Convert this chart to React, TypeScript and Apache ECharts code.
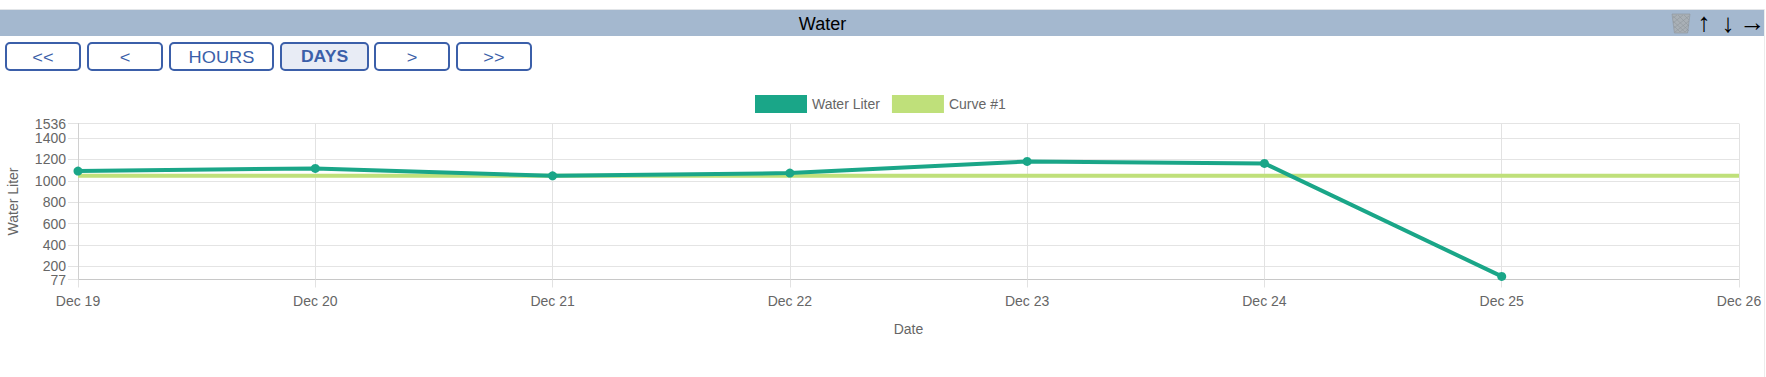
import React, { useEffect, useRef } from "react";
import * as echarts from "echarts";

const categories = ["Dec 19", "Dec 20", "Dec 21", "Dec 22", "Dec 23", "Dec 24", "Dec 25", "Dec 26"];
const waterLiter = [1091, 1116, 1047, 1072, 1181, 1163, 106, null];
const curve1 = [1047, 1047, 1047, 1047, 1047, 1047, 1047, 1047];
const yMin = 77;
const yMax = 1536;
const yTicks = [77, 200, 400, 600, 800, 1000, 1200, 1400, 1536];
const yMinLabel = [77];
const yUpperLabels = [200, 400, 600, 800, 1000, 1200, 1400, 1536];
const buttonLabels = ["<<", "<", "HOURS", "DAYS", ">", ">>"];
const buttonLefts = [5, 87, 169, 280, 374, 456];
const buttonRights = [81, 163, 274, 369, 450, 532];
const activeButton = "DAYS";

const FONT = '"Liberation Sans", Arial, sans-serif';
const BLUE = "#3b5fa9";

const TRASH = "M0 0 L18 0 L15.6 19 L2.4 19 Z";
const TRASH_HATCH =
  "M1 4 L5 1 M1 9 L11 1 M2 14 L17 2 M3 18 L17 7 M8 18 L16.5 11 M13 18 L16 15 M1 2 L17 17 M1 7 L13 18 M2 12 L8 18 M6 1 L17 12 M12 1 L17 6";
echarts.graphic.registerShape("trashBin", echarts.graphic.extendPath(TRASH, {}) as any);
echarts.graphic.registerShape("trashHatch", echarts.graphic.extendPath(TRASH_HATCH, {}) as any);

function buildGraphics() {
  const arrow = (text: string, x: number, y: number) => ({
    type: "text", silent: true, x, y,
    style: { text, fill: "#000", font: `bold 26px ${FONT}`, textAlign: "center", textVerticalAlign: "middle" },
  });
  const g: any[] = [
    { type: "rect", silent: true, shape: { x: 0, y: 9, width: 1764, height: 1 }, style: { fill: "#e2e5e8" } },
    { type: "rect", silent: true, shape: { x: 0, y: 10, width: 1764, height: 26 }, style: { fill: "#a4b8cf" } },
    { type: "rect", silent: true, shape: { x: 1764, y: 9, width: 1, height: 368 }, style: { fill: "#ececec" } },
    {
      type: "text", silent: true, x: 822.5, y: 24,
      style: { text: "Water", fill: "#000", font: `18px ${FONT}`, textAlign: "center", textVerticalAlign: "middle" },
    },
    {
      type: "trashBin", silent: true, x: 1672, y: 14,
      style: { fill: "#a9b0b6", stroke: "#8d949b", lineWidth: 0.6 },
    },
    {
      type: "trashHatch", silent: true, x: 1672, y: 14,
      style: { fill: "none", stroke: "#8b9299", lineWidth: 0.5 },
    },
    arrow("↑", 1704, 22),
    arrow("↓", 1728, 23),
    arrow("→", 1752.5, 22),
  ];
  buttonLabels.forEach((label, i) => {
    const active = label === activeButton;
    const x0 = buttonLefts[i];
    const x1 = buttonRights[i];
    g.push({
      type: "rect", silent: true,
      shape: { x: x0 + 1, y: 43, width: x1 - x0 - 2, height: 27, r: 4 },
      style: { fill: active ? "#e8ecf5" : "#fff", stroke: BLUE, lineWidth: 2 },
    });
    g.push({
      type: "text", silent: true, x: (x0 + x1) / 2, y: 57, scaleX: active ? 1.1 : 1.14,
      style: {
        text: label, fill: BLUE,
        font: `${active ? "bold " : ""}16px ${FONT}`,
        textAlign: "center", textVerticalAlign: "middle",
      },
    });
  });
  return g;
}

export default function App() {
  const ref = useRef<HTMLDivElement>(null);
  useEffect(() => {
    const chart = echarts.init(ref.current!, undefined, { renderer: "svg" });
    chart.setOption({
      animation: false,
      backgroundColor: "#fff",
      textStyle: { fontFamily: FONT },
      graphic: { elements: buildGraphics() },
      legend: {
        left: 755,
        top: 95,
        padding: 0,
        itemWidth: 52,
        itemHeight: 18,
        itemGap: 12,
        itemStyle: { borderWidth: 0 },
        textStyle: { color: "#666", fontSize: 14, fontFamily: FONT },
        data: [
          { name: "Water Liter", icon: "rect" },
          { name: "Curve #1", icon: "rect" },
        ],
      },
      grid: { left: 78, right: 27, top: 123.5, height: 156, containLabel: false, outerBoundsMode: "none" },
      xAxis: {
        type: "category",
        boundaryGap: false,
        data: categories,
        name: "Date",
        nameLocation: "middle",
        nameGap: 42,
        nameTextStyle: { color: "#666", fontSize: 14, fontFamily: FONT },
        axisLine: { lineStyle: { color: "#c8c8c8", width: 1 } },
        axisTick: { show: true, length: 8, alignWithLabel: true, interval: 0, lineStyle: { color: "#e2e2e2" } },
        axisLabel: { color: "#666", fontSize: 14, margin: 14, interval: 0, fontFamily: FONT },
        splitLine: { show: true, interval: 0, lineStyle: { color: "#e2e2e2", width: 1 } },
      },
      yAxis: [
        {
          type: "value",
          position: "left",
          min: yMin,
          max: yMax,
          name: "Water Liter",
          nameLocation: "middle",
          nameRotate: 90,
          nameGap: 58,
          nameTextStyle: { color: "#666", fontSize: 14, fontFamily: FONT },
          axisLine: { show: true, lineStyle: { color: "#d0d0d0", width: 1 } },
          axisTick: { show: true, length: 10, customValues: yTicks, lineStyle: { color: "#e2e2e2" } },
          axisLabel: {
            color: "#666", fontSize: 14, margin: 12, customValues: yUpperLabels, hideOverlap: false,
            showMinLabel: true, showMaxLabel: true, fontFamily: FONT,
            formatter: (v: number) => String(v),
          },
          splitLine: { show: true, showMinLine: true, lineStyle: { color: "#e4e4e4", width: 1 } },
        },
        {
          type: "value",
          position: "left",
          min: yMin,
          max: yMax,
          axisLine: { show: false },
          axisTick: { show: false },
          axisLabel: {
            color: "#666", fontSize: 14, margin: 12, customValues: yMinLabel,
            showMinLabel: true, fontFamily: FONT,
            formatter: (v: number) => String(v),
          },
          splitLine: { show: false },
        },
      ],
      series: [
        {
          name: "Water Liter",
          type: "line",
          yAxisIndex: 0,
          data: waterLiter,
          z: 3,
          color: "#1aa688",
          symbol: "circle",
          symbolSize: 9,
          showSymbol: true,
          connectNulls: false,
          lineStyle: { color: "#1aa688", width: 4 },
          itemStyle: { color: "#1aa688" },
        },
        {
          name: "Curve #1",
          type: "line",
          yAxisIndex: 0,
          data: curve1,
          z: 2,
          color: "#bfe07a",
          symbol: "none",
          lineStyle: { color: "#bfe07a", width: 4 },
          itemStyle: { color: "#bfe07a" },
        },
      ],
    });
    return () => chart.dispose();
  }, []);
  return <div ref={ref} style={{ position: "absolute", left: 0, top: 0, width: 1766, height: 377 }} />;
}
